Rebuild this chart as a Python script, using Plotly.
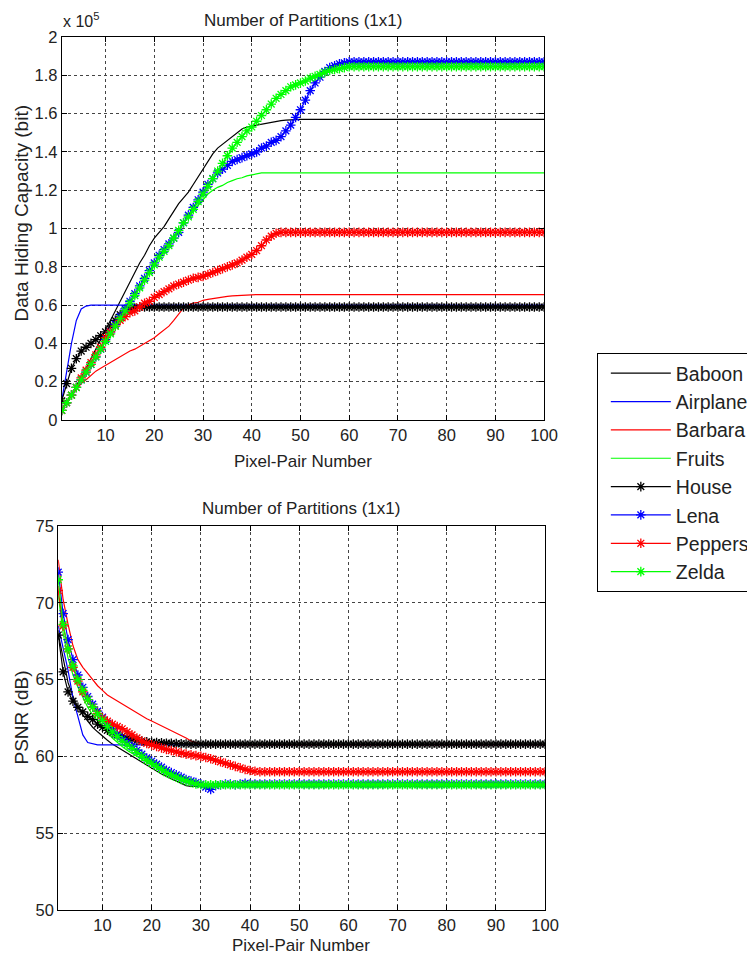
import plotly.graph_objects as go

# ---------------- data ----------------
pixel_pairs = list(range(1, 101))
x_ticks = [10, 20, 30, 40, 50, 60, 70, 80, 90, 100]
cap_ticks = [0, 0.2, 0.4, 0.6, 0.8, 1, 1.2, 1.4, 1.6, 1.8, 2]
cap_tick_text = ["0", "0.2", "0.4", "0.6", "0.8", "1", "1.2", "1.4", "1.6", "1.8", "2"]
psnr_ticks = [50, 55, 60, 65, 70, 75]

names = ["Baboon", "Airplane", "Barbara", "Fruits", "House", "Lena", "Peppers", "Zelda"]
colors = ["#000000", "#0000FF", "#FF0000", "#00FF00", "#000000", "#0000FF", "#FF0000", "#00FF00"]
has_marker = [False, False, False, False, True, True, True, True]

# Data hiding capacity (x 10^5 bit)
cap_baboon = [0.05, 0.09, 0.13, 0.18, 0.22, 0.27, 0.32, 0.37, 0.42, 0.47,
              0.52, 0.57, 0.62, 0.67, 0.72, 0.77, 0.82, 0.86, 0.91, 0.95,
              0.98, 1.01, 1.05, 1.09, 1.13, 1.16, 1.19, 1.23, 1.27, 1.31,
              1.35, 1.39, 1.42, 1.44, 1.46, 1.48, 1.50, 1.52, 1.53, 1.535,
              1.54, 1.545, 1.55, 1.555, 1.56, 1.563, 1.566, 1.568, 1.57, 1.57] + [1.57] * 50
cap_airplane = [0.10, 0.25, 0.40, 0.52, 0.58, 0.595, 0.60, 0.60, 0.60, 0.60] + [0.60] * 90
cap_barbara = [0.05, 0.09, 0.13, 0.16, 0.19, 0.21, 0.235, 0.255, 0.27, 0.285,
               0.30, 0.315, 0.33, 0.345, 0.36, 0.37, 0.385, 0.40, 0.415, 0.43,
               0.45, 0.47, 0.49, 0.52, 0.55, 0.585, 0.60, 0.61, 0.615, 0.625,
               0.63, 0.635, 0.64, 0.643, 0.646, 0.648, 0.65, 0.652, 0.654, 0.655] + [0.655] * 60
cap_fruits = [0.05, 0.09, 0.13, 0.17, 0.21, 0.25, 0.29, 0.33, 0.37, 0.41,
              0.45, 0.49, 0.53, 0.57, 0.61, 0.65, 0.69, 0.73, 0.77, 0.81,
              0.85, 0.89, 0.93, 0.96, 0.99, 1.03, 1.06, 1.09, 1.12, 1.15,
              1.18, 1.20, 1.215, 1.225, 1.24, 1.25, 1.26, 1.265, 1.275, 1.28,
              1.285, 1.29] + [1.29] * 58
cap_house = [0.10, 0.19, 0.27, 0.32, 0.36, 0.38, 0.40, 0.42, 0.44, 0.46,
             0.49, 0.52, 0.55, 0.57, 0.58, 0.585, 0.59, 0.59, 0.59, 0.59] + [0.59] * 80
cap_lena = [0.05, 0.09, 0.13, 0.17, 0.21, 0.25, 0.29, 0.33, 0.37, 0.42,
            0.46, 0.50, 0.54, 0.58, 0.62, 0.66, 0.70, 0.74, 0.78, 0.82,
            0.86, 0.89, 0.92, 0.95, 0.98, 1.03, 1.07, 1.11, 1.15, 1.19,
            1.23, 1.26, 1.29, 1.31, 1.33, 1.35, 1.36, 1.37, 1.38, 1.39,
            1.40, 1.42, 1.43, 1.45, 1.46, 1.48, 1.51, 1.54, 1.58, 1.62,
            1.67, 1.72, 1.76, 1.79, 1.82, 1.84, 1.85, 1.86, 1.865, 1.87] + [1.87] * 40
cap_peppers = [0.05, 0.09, 0.13, 0.17, 0.22, 0.26, 0.30, 0.34, 0.38, 0.43,
               0.46, 0.49, 0.52, 0.54, 0.56, 0.57, 0.59, 0.61, 0.62, 0.64,
               0.655, 0.67, 0.685, 0.70, 0.71, 0.72, 0.73, 0.74, 0.745, 0.75,
               0.76, 0.77, 0.78, 0.79, 0.80, 0.81, 0.82, 0.835, 0.85, 0.865,
               0.885, 0.91, 0.94, 0.96, 0.975, 0.98, 0.98, 0.98, 0.98, 0.98] + [0.98] * 50
cap_zelda = [0.05, 0.09, 0.13, 0.17, 0.21, 0.25, 0.29, 0.33, 0.37, 0.41,
             0.45, 0.49, 0.53, 0.57, 0.61, 0.65, 0.69, 0.73, 0.77, 0.81,
             0.85, 0.88, 0.91, 0.95, 0.99, 1.03, 1.06, 1.10, 1.14, 1.18,
             1.22, 1.26, 1.30, 1.34, 1.38, 1.42, 1.45, 1.48, 1.51, 1.53,
             1.56, 1.59, 1.62, 1.65, 1.68, 1.70, 1.72, 1.74, 1.75, 1.76,
             1.77, 1.785, 1.795, 1.805, 1.815, 1.825, 1.83, 1.835, 1.84, 1.845] + [1.845] * 40

# PSNR (dB)
psnr_baboon = [68.0, 66.3, 64.8, 63.9, 63.2, 62.7, 62.3, 61.9, 61.6, 61.3,
               61.05, 60.8, 60.6, 60.4, 60.2, 60.0, 59.8, 59.6, 59.4, 59.2,
               59.0, 58.85, 58.7, 58.55, 58.4, 58.25, 58.1, 58.05, 58.05, 58.05] + [58.05] * 70
psnr_airplane = [68.5, 67.0, 65.6, 63.8, 62.5, 61.4, 60.9, 60.8, 60.75, 60.75] + [60.75] * 90
psnr_barbara = [72.8, 70.2, 68.6, 67.2, 66.3, 65.8, 65.4, 65.0, 64.6, 64.3,
                64.0, 63.8, 63.6, 63.4, 63.2, 63.0, 62.8, 62.6, 62.45, 62.3,
                62.15, 62.0, 61.85, 61.7, 61.5, 61.35, 61.2, 61.0, 60.9, 60.8] + [60.75] * 70
psnr_fruits = [70.5, 68.0, 66.4, 65.3, 64.5, 63.8, 63.2, 62.7, 62.3, 61.9,
               61.55, 61.2, 60.9, 60.65, 60.4, 60.2, 60.0, 59.8, 59.6, 59.4,
               59.2, 59.0, 58.85, 58.7, 58.55, 58.4, 58.3, 58.2, 58.15, 58.1] + [58.1] * 70
psnr_house = [67.9, 65.5, 64.2, 63.6, 63.2, 62.9, 62.6, 62.4, 62.1, 61.9,
              61.7, 61.55, 61.4, 61.3, 61.2, 61.1, 61.05, 61.0, 60.95, 60.92,
              60.9, 60.88, 60.86, 60.85, 60.83, 60.82, 60.81, 60.8, 60.8, 60.8] + [60.8] * 70
psnr_lena = [72.0, 69.3, 67.6, 66.3, 65.3, 64.5, 63.9, 63.4, 62.95, 62.55,
             62.15, 61.8, 61.45, 61.15, 60.9, 60.65, 60.4, 60.15, 59.9, 59.7,
             59.5, 59.3, 59.1, 58.95, 58.8, 58.65, 58.5, 58.4, 58.3, 58.2,
             58.0, 57.85, 58.1, 58.15, 58.2, 58.2, 58.15, 58.2, 58.25, 58.2] + [58.2] * 60
psnr_peppers = [70.8, 68.5, 67.0, 65.8, 64.9, 64.2, 63.7, 63.2, 62.8, 62.5,
                62.3, 62.1, 61.95, 61.8, 61.6, 61.4, 61.2, 61.0, 60.85, 60.75,
                60.65, 60.55, 60.45, 60.38, 60.3, 60.22, 60.15, 60.1, 60.05, 60.0,
                59.93, 59.85, 59.75, 59.65, 59.55, 59.45, 59.35, 59.25, 59.15, 59.08,
                59.03, 59.0] + [59.0] * 58
psnr_zelda = [71.5, 68.6, 67.0, 65.9, 65.0, 64.3, 63.7, 63.2, 62.75, 62.35,
              61.95, 61.6, 61.3, 61.0, 60.75, 60.5, 60.25, 60.0, 59.75, 59.55,
              59.35, 59.15, 58.95, 58.8, 58.65, 58.5, 58.4, 58.3, 58.2, 58.15] + [58.15] * 70

capacity = [cap_baboon, cap_airplane, cap_barbara, cap_fruits,
            cap_house, cap_lena, cap_peppers, cap_zelda]
psnr = [psnr_baboon, psnr_airplane, psnr_barbara, psnr_fruits,
        psnr_house, psnr_lena, psnr_peppers, psnr_zelda]

# ---------------- figure ----------------
OFF = 8  # page body margin
W, H = 755 - OFF, 962 - OFF
FONT = "Liberation Sans, Arial, sans-serif"


def px(xp):
    return (xp - OFF) / W


def py(yp):
    return 1 - (yp - OFF) / H


fig = go.Figure()

for i, name in enumerate(names):
    mode = "lines+markers" if has_marker[i] else "lines"
    marker = dict(symbol="asterisk-open", size=8, color=colors[i],
                  line=dict(color=colors[i], width=1.3))
    fig.add_trace(go.Scatter(x=pixel_pairs, y=capacity[i], name=name, mode=mode,
                             line=dict(color=colors[i], width=1.2),
                             marker=marker, xaxis="x", yaxis="y", showlegend=True))
for i, name in enumerate(names):
    mode = "lines+markers" if has_marker[i] else "lines"
    marker = dict(symbol="asterisk-open", size=8, color=colors[i],
                  line=dict(color=colors[i], width=1.3))
    fig.add_trace(go.Scatter(x=pixel_pairs, y=psnr[i], name=name, mode=mode,
                             line=dict(color=colors[i], width=1.2),
                             marker=marker, xaxis="x2", yaxis="y2", showlegend=False))

axis_common = dict(showline=True, linecolor="black", linewidth=1, mirror="ticks",
                   ticks="inside", ticklen=5, tickcolor="black",
                   showgrid=True, gridcolor="#444444", gridwidth=1, griddash="3px,3px",
                   zeroline=False, tickfont=dict(family=FONT, size=16.5, color="#222"),
                   automargin=False)

fig.update_layout(
    width=W, height=H,
    margin=dict(l=0, r=0, t=0, b=0),
    paper_bgcolor="white", plot_bgcolor="white",
    xaxis=dict(domain=[px(62), px(547)], range=[1, 100], tickvals=x_ticks,
               anchor="y", **axis_common),
    yaxis=dict(domain=[py(420), py(37)], range=[0, 2], tickvals=cap_ticks,
               ticktext=cap_tick_text, anchor="x", **axis_common),
    xaxis2=dict(domain=[px(58.5), px(548)], range=[1, 100], tickvals=x_ticks,
                anchor="y2", **axis_common),
    yaxis2=dict(domain=[py(910), py(526)], range=[50, 75], tickvals=psnr_ticks,
                anchor="x2", **axis_common),
    legend=dict(x=px(600), y=py(353), xanchor="left", yanchor="top",
                bgcolor="white", bordercolor="black", borderwidth=1,
                font=dict(family=FONT, size=19.5, color="#222"),
                itemwidth=60, tracegroupgap=0, indentation=8),
    showlegend=True,
)

ann_font = dict(family=FONT, size=17, color="#222")
annotations = [
    dict(text="Number of Partitions (1x1)", x=px(304.5), y=py(21)),
    dict(text="Number of Partitions (1x1)", x=px(303), y=py(508)),
    dict(text="Pixel-Pair Number", x=px(304.5), y=py(462)),
    dict(text="Pixel-Pair Number", x=px(303), y=py(945)),
]
for a in annotations:
    a.update(xref="paper", yref="paper", showarrow=False, xanchor="center",
             yanchor="middle", font=ann_font)
annotations += [
    dict(text="Data Hiding Capacity (bit)", x=px(9), y=py(213), textangle=-90,
         xref="paper", yref="paper", showarrow=False, xanchor="left", yanchor="middle",
         font=dict(family=FONT, size=19, color="#222")),
    dict(text="PSNR (dB)", x=px(9), y=py(717), textangle=-90,
         xref="paper", yref="paper", showarrow=False, xanchor="left", yanchor="middle",
         font=dict(family=FONT, size=19, color="#222")),
    dict(text="x 10<sup>5</sup>", x=px(61), y=py(8.5),
         xref="paper", yref="paper", showarrow=False, xanchor="left", yanchor="top",
         font=dict(family=FONT, size=16, color="#222")),
]
fig.update_layout(annotations=annotations)

fig.write_html("out.html")
